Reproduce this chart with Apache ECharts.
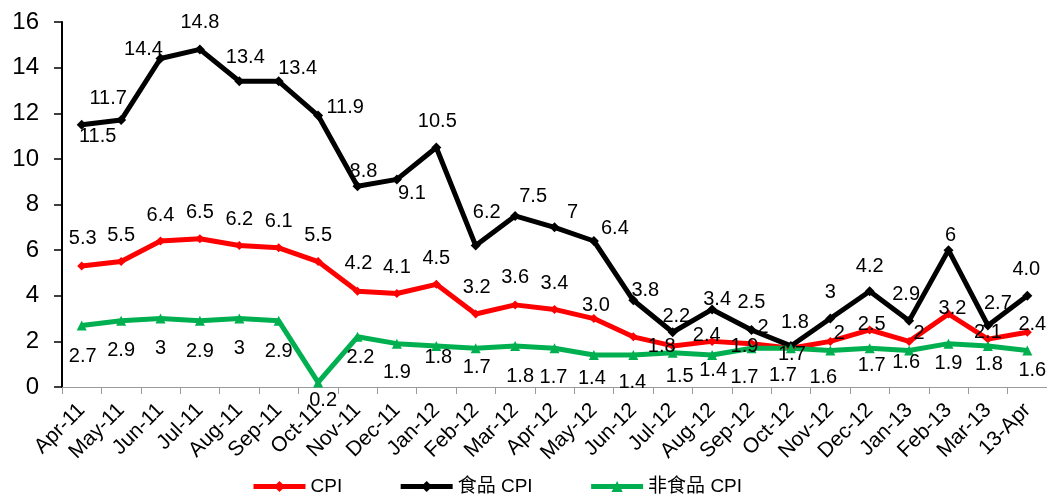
<!DOCTYPE html>
<html>
<head>
<meta charset="utf-8">
<script src="https://cdn.jsdelivr.net/npm/echarts@6/dist/echarts.min.js"></script>
<style>
  html, body { margin: 0; padding: 0; background: #fff; }
  #main { width: 1047px; height: 497px; }
</style>
</head>
<body>
<div id="main"></div>
<script>
var months = ['Apr-11', 'May-11', 'Jun-11', 'Jul-11', 'Aug-11', 'Sep-11', 'Oct-11', 'Nov-11', 'Dec-11',
    'Jan-12', 'Feb-12', 'Mar-12', 'Apr-12', 'May-12', 'Jun-12', 'Jul-12', 'Aug-12', 'Sep-12', 'Oct-12',
    'Nov-12', 'Dec-12', 'Jan-13', 'Feb-13', 'Mar-13', '13-Apr'];

var cpi = [5.3, 5.5, 6.4, 6.5, 6.2, 6.1, 5.5, 4.2, 4.1, 4.5, 3.2, 3.6, 3.4, 3.0, 2.2, 1.8, 2.0, 1.9, 1.7, 2.0, 2.5, 2.0, 3.2, 2.1, 2.4];
var foodCpi = [11.5, 11.7, 14.4, 14.8, 13.4, 13.4, 11.9, 8.8, 9.1, 10.5, 6.2, 7.5, 7.0, 6.4, 3.8, 2.4, 3.4, 2.5, 1.8, 3.0, 4.2, 2.9, 6.0, 2.7, 4.0];
var nonFoodCpi = [2.7, 2.9, 3.0, 2.9, 3.0, 2.9, 0.2, 2.2, 1.9, 1.8, 1.7, 1.8, 1.7, 1.4, 1.4, 1.5, 1.4, 1.7, 1.7, 1.6, 1.7, 1.6, 1.9, 1.8, 1.6];

// label texts as printed on the chart
var cpiText = ['5.3', '5.5', '6.4', '6.5', '6.2', '6.1', '5.5', '4.2', '4.1', '4.5', '3.2', '3.6', '3.4', '3.0', '2.2', '1.8', '2', '1.9', '1.7', '2', '2.5', '2', '3.2', '2.1', '2.4'];
var foodText = ['11.5', '11.7', '14.4', '14.8', '13.4', '13.4', '11.9', '8.8', '9.1', '10.5', '6.2', '7.5', '7', '6.4', '3.8', '2.4', '3.4', '2.5', '1.8', '3', '4.2', '2.9', '6', '2.7', '4.0'];
var nonFoodText = ['2.7', '2.9', '3', '2.9', '3', '2.9', '0.2', '2.2', '1.9', '1.8', '1.7', '1.8', '1.7', '1.4', '1.4', '1.5', '1.4', '1.7', '1.7', '1.6', '1.7', '1.6', '1.9', '1.8', '1.6'];

var yTicks = { min: 0, max: 16, interval: 2 };

// label offsets (px, from the point) - the labels were dragged around by hand
var cpiOffset = [[1, -28], [0, -26], [0, -26], [0, -26], [0, -26], [0, -26], [0, -26], [1, -28], [0, -26],
    [0, -26], [1, -27], [0, -27], [0, -26], [2, -13], [43, -20], [-11, 1], [51, -14], [-7, 3], [1, 6],
    [9, -8], [2, -5], [10, -8], [4, -6], [0, -7], [5, -8]];
var foodOffset = [[16, 12], [-13, -22], [-17, -9], [0, -27], [6, -24], [19, -13], [27, -8], [6, -15], [15, 14],
    [1, -26], [11, -33], [18, -19], [18, -15], [21, -13], [12, -10], [34, 3], [5, -10], [0, -27], [4, -23],
    [0, -26], [0, -25], [-3, -26], [2, -15], [10, -22], [-1, -26]];
var nonFoodOffset = [[1, 31], [0, 30], [0, 30], [0, 31], [0, 30], [0, 31], [5, 18], [3, 21], [0, 29],
    [2, 12], [1, 19], [5, 31], [-1, 29], [-2, 23], [-1, 27], [7, 24], [1, 15], [-7, 29], [-8, 27],
    [-7, 27], [2, 17], [-3, 12], [0, 20], [1, 19], [5, 20]];

var FONT = '"Liberation Sans", Arial, "Noto Sans CJK SC", sans-serif';

function withLabels(values, offsets) {
    return values.map(function (v, i) {
        return { value: v, label: { offset: offsets[i] } };
    });
}

function makeSeries(name, values, texts, offsets, color, symbol, size) {
    return {
        name: name,
        type: 'line',
        data: withLabels(values, offsets),
        symbol: symbol,
        symbolSize: size,
        lineStyle: { color: color, width: 5 },
        itemStyle: { color: color },
        label: {
            show: true,
            position: 'inside',
            color: '#000',
            fontSize: 20,
            fontFamily: FONT,
            formatter: function (p) { return texts[p.dataIndex]; }
        }
    };
}

var myChart = echarts.init(document.getElementById('main'));

var option = {
    animation: false,
    backgroundColor: '#fff',
    grid: {
        left: 62,
        right: 0,
        top: 22,
        bottom: 110
    },
    legend: {
        left: 246,
        top: 472,
        itemWidth: 52,
        itemHeight: 14,
        itemGap: 56,
        lineStyle: { width: 5 },
        textStyle: { fontSize: 19, color: '#000', fontFamily: FONT },
        data: ['CPI', '食品 CPI', '非食品 CPI']
    },
    xAxis: {
        type: 'category',
        data: months,
        boundaryGap: true,
        axisLine: { lineStyle: { color: '#9a9a9a', width: 1 } },
        axisTick: { show: true, length: 7, lineStyle: { color: '#9a9a9a' } },
        axisLabel: {
            interval: 0,
            rotate: 45,
            margin: 20,
            fontSize: 21,
            color: '#000',
            fontFamily: FONT
        },
        splitLine: { show: false }
    },
    yAxis: {
        type: 'value',
        min: yTicks.min,
        max: yTicks.max,
        interval: yTicks.interval,
        axisLine: { show: true, lineStyle: { color: '#000', width: 2 } },
        axisTick: { show: true, length: 8, lineStyle: { color: '#000', width: 1.5 } },
        axisLabel: { fontSize: 24, color: '#000', margin: 23, fontFamily: FONT },
        splitLine: { show: false }
    },
    series: [
        makeSeries('CPI', cpi, cpiText, cpiOffset, '#ff0000', 'diamond', 9),
        makeSeries('食品 CPI', foodCpi, foodText, foodOffset, '#000000', 'diamond', 10),
        makeSeries('非食品 CPI', nonFoodCpi, nonFoodText, nonFoodOffset, '#00b050', 'triangle', 10)
    ]
};

myChart.setOption(option);
</script>
</body>
</html>
